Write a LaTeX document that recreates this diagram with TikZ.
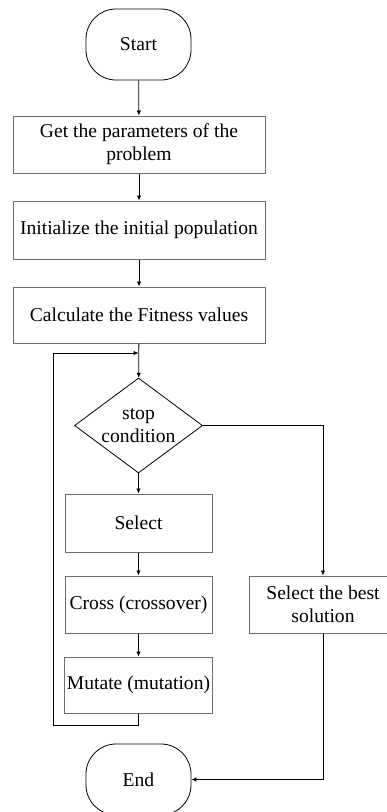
\documentclass[tikz,border=0pt]{standalone}
\usepackage{fontspec}
\setmainfont{Liberation Serif}
\usepackage{tikz}
\usetikzlibrary{shapes.geometric,arrows.meta,positioning,calc}
\definecolor{boxline}{RGB}{110,110,110}

\begin{document}
\begin{tikzpicture}[x=1pt, y=-1pt,
        font=\fontsize{19.6}{23}\selectfont,
        procbox/.style={draw=boxline, line width=1pt, rectangle, align=center, inner sep=2pt},
        termbox/.style={draw=black, line width=0.8pt, rectangle, rounded corners=30pt, minimum width=105pt, minimum height=71pt},
        decbox/.style={draw=black, line width=0.8pt, diamond, aspect=1.35, align=center, minimum width=128pt, minimum height=95pt, inner sep=0pt},
        flow/.style={draw=black, line width=0.8pt, -{Latex[length=5pt,width=4.5pt]}}]
        \useasboundingbox (0,0) rectangle (386,812);

        % main column
        \node[termbox] (start) at (138.5,44.5) {Start};
        \node[procbox, minimum width=252pt, minimum height=57pt] (params) at (139,144.5) {Get the parameters of the\\ problem};
        \node[procbox, minimum width=252pt, minimum height=58pt] (init) at (139,230) {Initialize the initial population};
        \node[procbox, minimum width=252pt, minimum height=56pt] (fitness) at (139,315) {Calculate the Fitness values};
        \node[decbox] (stop) at (138.5,425.5) {stop\\ condition};

        % loop body
        \node[procbox, minimum width=147pt, minimum height=58pt] (select) at (138.5,523) {Select};
        \node[procbox, minimum width=147pt, minimum height=57pt] (cross) at (138.5,604.5) {Cross (crossover)};
        \node[procbox, minimum width=147pt, minimum height=56pt] (mutate) at (138.5,685) {Mutate (mutation)};

        % exit branch
        \node[procbox, minimum width=147pt, minimum height=57pt] (best) at (323,604.5) {Select the best\\ solution};
        \begin{scope}
            \clip (0,0) rectangle (386,812);
            \node[termbox] (end) at (138.5,779.5) {End};
        \end{scope}

        \coordinate (join) at (138.5,353);
        \coordinate (loopbot) at (53,725);

        \draw[flow] (start) -- (params);
        \draw[flow] (params) -- (init);
        \draw[flow] (init) -- (fitness);
        \draw[flow] (fitness) -- (stop);
        \draw[flow] (stop) -- (select);
        \draw[flow] (select) -- (cross);
        \draw[flow] (cross) -- (mutate);
        \draw[flow] (mutate.south) -- (mutate.south |- loopbot) -- (loopbot) -- (loopbot |- join) -- (join);
        \draw[flow] (stop.east) -| (best.north);
        \draw[flow] (best.south) |- (end.east);
    \end{tikzpicture}
\end{document}
